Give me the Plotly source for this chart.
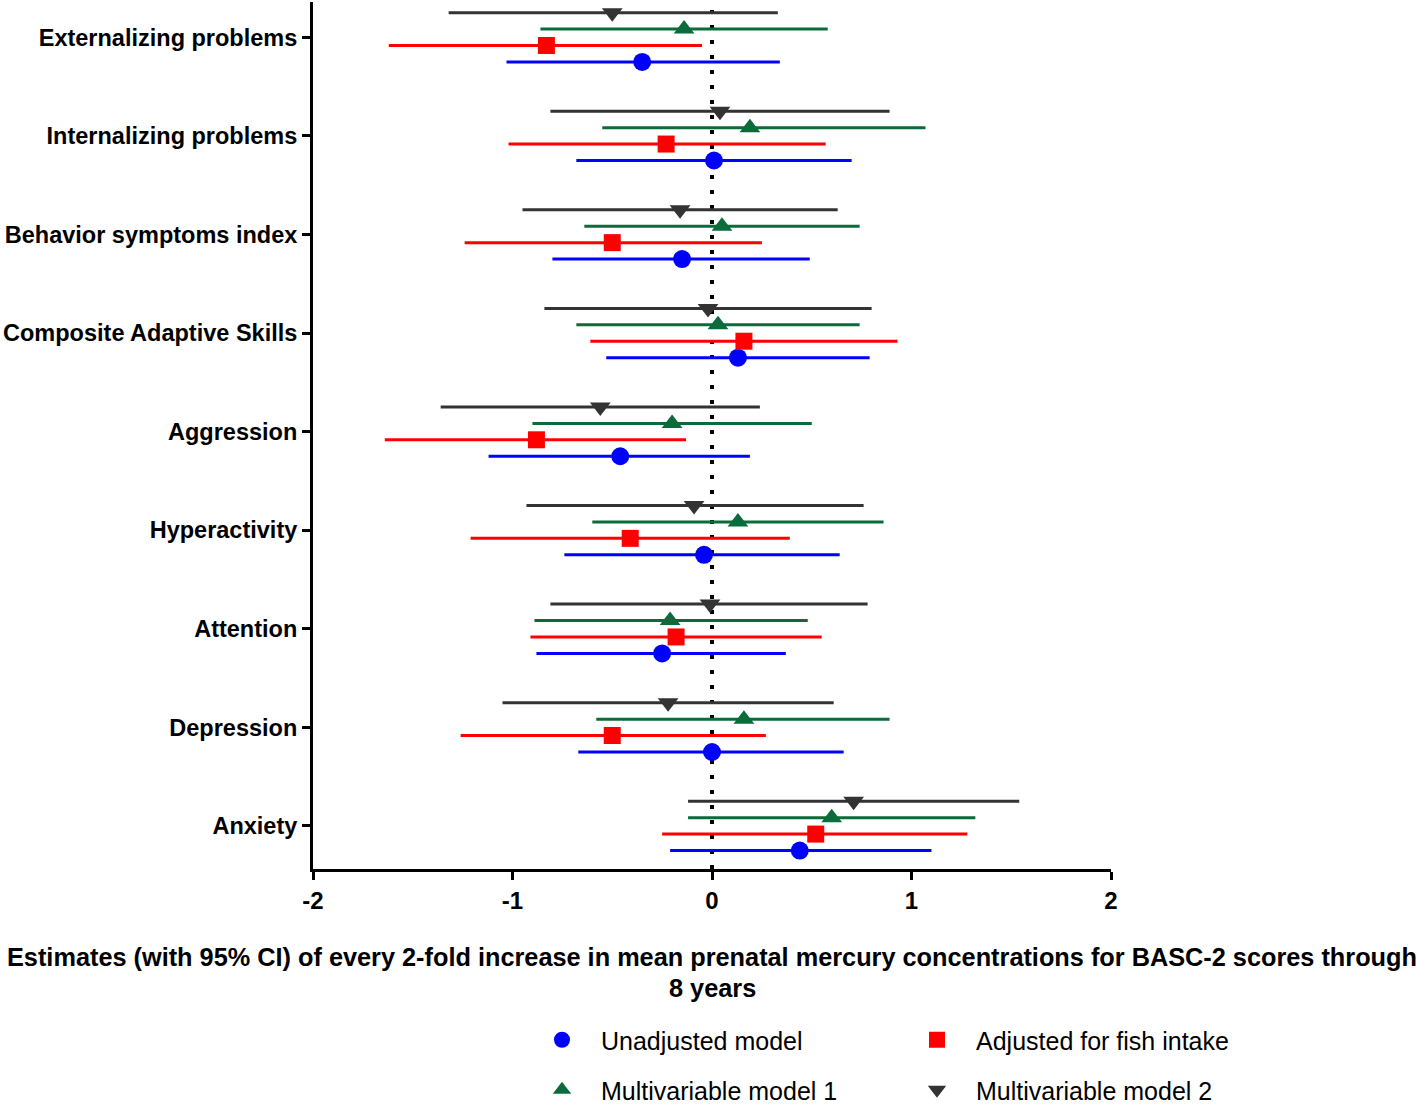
import plotly.graph_objects as go

categories = ["Externalizing problems", "Internalizing problems", "Behavior symptoms index",
              "Composite Adaptive Skills", "Aggression", "Hyperactivity", "Attention",
              "Depression", "Anxiety"]

# Unadjusted model
unadj_est = [-0.35, 0.01, -0.15, 0.13, -0.46, -0.04, -0.25, 0.00, 0.44]
unadj_lo = [-1.03, -0.68, -0.80, -0.53, -1.12, -0.74, -0.88, -0.67, -0.21]
unadj_hi = [0.34, 0.70, 0.49, 0.79, 0.19, 0.64, 0.37, 0.66, 1.10]

# Adjusted for fish intake
fish_est = [-0.83, -0.23, -0.50, 0.16, -0.88, -0.41, -0.18, -0.50, 0.52]
fish_lo = [-1.62, -1.02, -1.24, -0.61, -1.64, -1.21, -0.91, -1.26, -0.25]
fish_hi = [-0.05, 0.57, 0.25, 0.93, -0.13, 0.39, 0.55, 0.27, 1.28]

# Multivariable model 1
m1_est = [-0.14, 0.19, 0.05, 0.03, -0.20, 0.13, -0.21, 0.16, 0.60]
m1_lo = [-0.86, -0.55, -0.64, -0.68, -0.90, -0.60, -0.89, -0.58, -0.12]
m1_hi = [0.58, 1.07, 0.74, 0.74, 0.50, 0.86, 0.48, 0.89, 1.32]

# Multivariable model 2
m2_est = [-0.50, 0.04, -0.16, -0.02, -0.56, -0.09, -0.01, -0.22, 0.71]
m2_lo = [-1.32, -0.81, -0.95, -0.84, -1.36, -0.93, -0.81, -1.05, -0.12]
m2_hi = [0.33, 0.89, 0.63, 0.80, 0.24, 0.76, 0.78, 0.61, 1.54]

x_ticks = [-2, -1, 0, 1, 2]

FONT = "Arial, 'Liberation Sans', sans-serif"

series = [
    ("Unadjusted model", unadj_est, unadj_lo, unadj_hi, 0.25, "#0000FF", "circle", 18, "legend"),
    ("Adjusted for fish intake", fish_est, fish_lo, fish_hi, 0.083, "#FF0000", "square", 17, "legend"),
    ("Multivariable model 1", m1_est, m1_lo, m1_hi, -0.083, "#0B6B3A", "triangle-up", 18, "legend2"),
    ("Multivariable model 2", m2_est, m2_lo, m2_hi, -0.25, "#333333", "triangle-down", 18, "legend2"),
]

fig = go.Figure()
for name, est, lo, hi, off, color, sym, size, leg in series:
    ys = [i + off for i in range(len(categories))]
    fig.add_trace(go.Scatter(
        x=est, y=ys, mode="markers", name=name, legend=leg,
        marker=dict(symbol=sym, size=size, color=color, line=dict(width=0)),
        error_x=dict(type="data", symmetric=False,
                     array=[h - e for h, e in zip(hi, est)],
                     arrayminus=[e - l for e, l in zip(est, lo)],
                     color=color, thickness=3, width=0),
    ))

fig.add_shape(type="line", x0=0, x1=0, xref="x", y0=0, y1=1, yref="paper",
              line=dict(color="black", width=4, dash="4px,11px"), layer="below")

W, H = 1418, 1105
ml, mr, mt, mb = 313, 307, 2, 236
ph = H - mt - mb
pw = W - ml - mr


def py(pix):
    return (H - mb - pix) / ph


def px(pix):
    return (pix - ml) / pw


legend_common = dict(orientation="h", xanchor="left", yanchor="middle",
                     entrywidth=292, entrywidthmode="pixels", itemwidth=68,
                     font=dict(family=FONT, size=25, color="black"),
                     bgcolor="rgba(0,0,0,0)", borderwidth=0)

fig.update_layout(
    width=W, height=H,
    margin=dict(l=ml, r=mr, t=mt, b=mb, autoexpand=False),
    paper_bgcolor="white", plot_bgcolor="white",
    font=dict(family=FONT, color="black"),
    showlegend=True,
    legend=dict(x=px(523), y=py(1040), **legend_common),
    legend2=dict(x=px(523), y=py(1090), **legend_common),
    xaxis=dict(range=[-2, 2], tickvals=x_ticks, ticktext=[str(t) for t in x_ticks],
               showgrid=False, zeroline=False, showline=True, linecolor="black", linewidth=3,
               ticks="outside", ticklen=8, tickwidth=3, tickcolor="black", automargin=False,
               tickfont=dict(family=FONT, size=24, color="black", weight="bold")),
    yaxis=dict(range=[8.437, -0.358], tickvals=list(range(len(categories))), ticktext=categories,
               showgrid=False, zeroline=False, showline=True, linecolor="black", linewidth=3,
               ticks="outside", ticklen=8, tickwidth=3, tickcolor="black", automargin=False,
               tickfont=dict(family=FONT, size=23.5, color="black", weight="bold")),
    annotations=[
        dict(text="Estimates (with 95% CI) of every 2-fold increase in mean prenatal mercury concentrations for BASC-2 scores through",
             x=0.5, xref="paper", y=py(957), yref="paper", xanchor="center", yanchor="middle",
             showarrow=False, font=dict(family=FONT, size=25.3, color="black", weight="bold")),
        dict(text="8 years",
             x=0.5, xref="paper", y=py(988), yref="paper", xanchor="center", yanchor="middle",
             showarrow=False, font=dict(family=FONT, size=25.3, color="black", weight="bold")),
    ],
)

fig.write_html("out.html", config={"displayModeBar": False},
               post_script="document.body.style.margin='0';")
